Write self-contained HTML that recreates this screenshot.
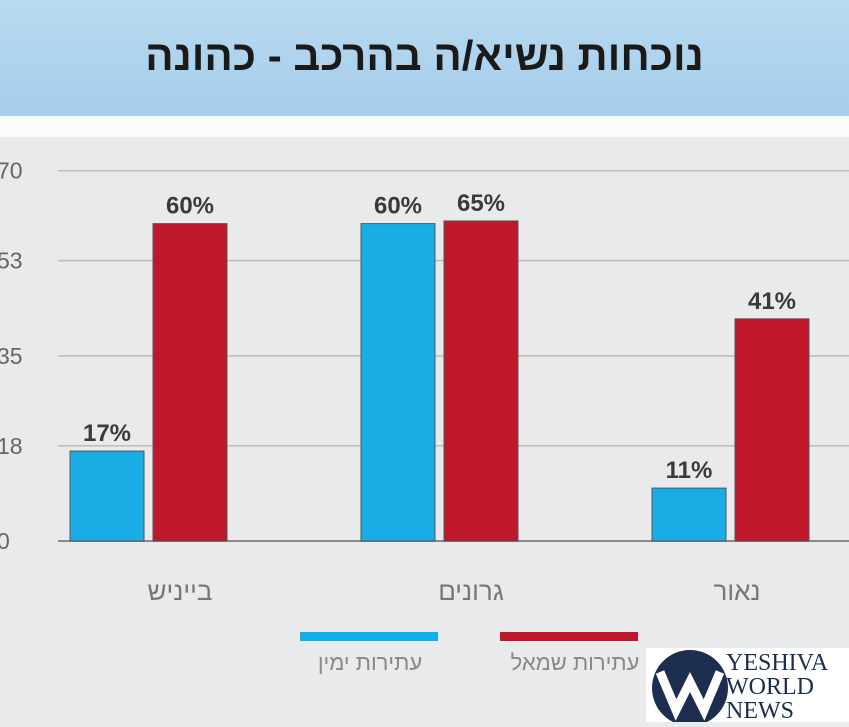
<!DOCTYPE html>
<html><head><meta charset="utf-8"><style>
body{margin:0;width:849px;height:722px;overflow:hidden;background:#e9eaeb;font-family:"Liberation Sans","Noto Sans CJK SC",sans-serif;}
#banner{position:absolute;left:0;top:0;width:849px;height:116px;background:linear-gradient(#b9daf0,#a5cdeb);}
#title{position:absolute;left:0;top:32px;width:849px;text-align:center;font-size:42px;font-weight:bold;color:#1a1a1a;direction:rtl;}
#strip{position:absolute;left:0;top:116px;width:849px;height:21px;background:#fafbfb;}
#logo{position:absolute;left:646px;top:648px;width:203px;height:74px;background:#fff;}
</style></head><body>
<div id="banner"><div id="title">נוכחות נשיא/ה בהרכב - כהונה</div></div>
<div id="strip"></div>
<svg id="chart" width="849" height="722" style="position:absolute;left:0;top:0"></svg>
<div id="logo">
<svg width="203" height="74"><circle cx="44" cy="40" r="38" fill="#1c2d4f"/><path d="M14 24 L30 62 L44 34 L58 62 L74 24" stroke="#fff" stroke-width="9" fill="none"/>
<text x="80" y="22" font-family="Liberation Serif,serif" font-size="24" fill="#1c2d4f">YESHIVA</text>
<text x="80" y="46" font-family="Liberation Serif,serif" font-size="24" fill="#1c2d4f">WORLD</text>
<text x="80" y="70" font-family="Liberation Serif,serif" font-size="24" fill="#1c2d4f">NEWS</text></svg></div>
<script>
const categories=["בייניש","גרונים","נאור"];
const rightVals=[17,60,10];
const leftVals=[60,60.5,42];
const rightLabels=["17%","60%","11%"];
const leftLabels=["60%","65%","41%"];
const yTicks=[0,18,35,53,70];
const seriesNames=["עתירות ימין","עתירות שמאל"];
const NS="http://www.w3.org/2000/svg";
const svg=document.getElementById('chart');
function y(v){return 541-v*5.29;}
function x(i){return 70+i*291;}
function mk(t,a){const e=document.createElementNS(NS,t);for(const k in a)e.setAttribute(k,a[k]);svg.appendChild(e);return e;}
yTicks.forEach(t=>{
 const l=mk('line',{x1:58,x2:849,y1:y(t),y2:y(t),stroke:t===0?'#8a8a8a':'#bdbdbd','stroke-width':t===0?2:1.5});
 
 
 const tx=mk('text',{x:-3,y:y(t)+8,'font-size':23,fill:'#666','font-family':'Liberation Sans,sans-serif'});
 tx.textContent=t;
 
 
});
categories.forEach((c,i)=>{
 const x0=x(i);
 [[rightVals[i],rightLabels[i],'#1aace4',x0],[leftVals[i],leftLabels[i],'#c0182b',x0+83]].forEach((d,j)=>{
  const r=mk('rect',{x:d[3],y:y(d[0]),width:74,height:541-y(d[0]),fill:d[2],stroke:'#555','stroke-width':1});
  
  
  const t=mk('text',{x:d[3]+37,y:y(d[0])-10,'text-anchor':'middle','font-size':24,'font-weight':'bold',fill:'#3a3a3a'});
  t.textContent=d[1];
  
  
 });
 const ct=mk('text',{x:x0+(i===2?85:110),y:600,'text-anchor':'middle','font-size':26,fill:'#777'});
 ct.textContent=c;
 
 
});
[['#14aee8',300,370],['#c0182b',500,575]].forEach((s,i)=>{
 const l=mk('rect',{x:s[1],y:632,width:138,height:9,fill:s[0]});
 
 
 const t=mk('text',{x:s[2],y:670,'text-anchor':'middle','font-size':22,fill:'#888'});
 t.textContent=seriesNames[i];
 
 
});
</script>
</body></html>
